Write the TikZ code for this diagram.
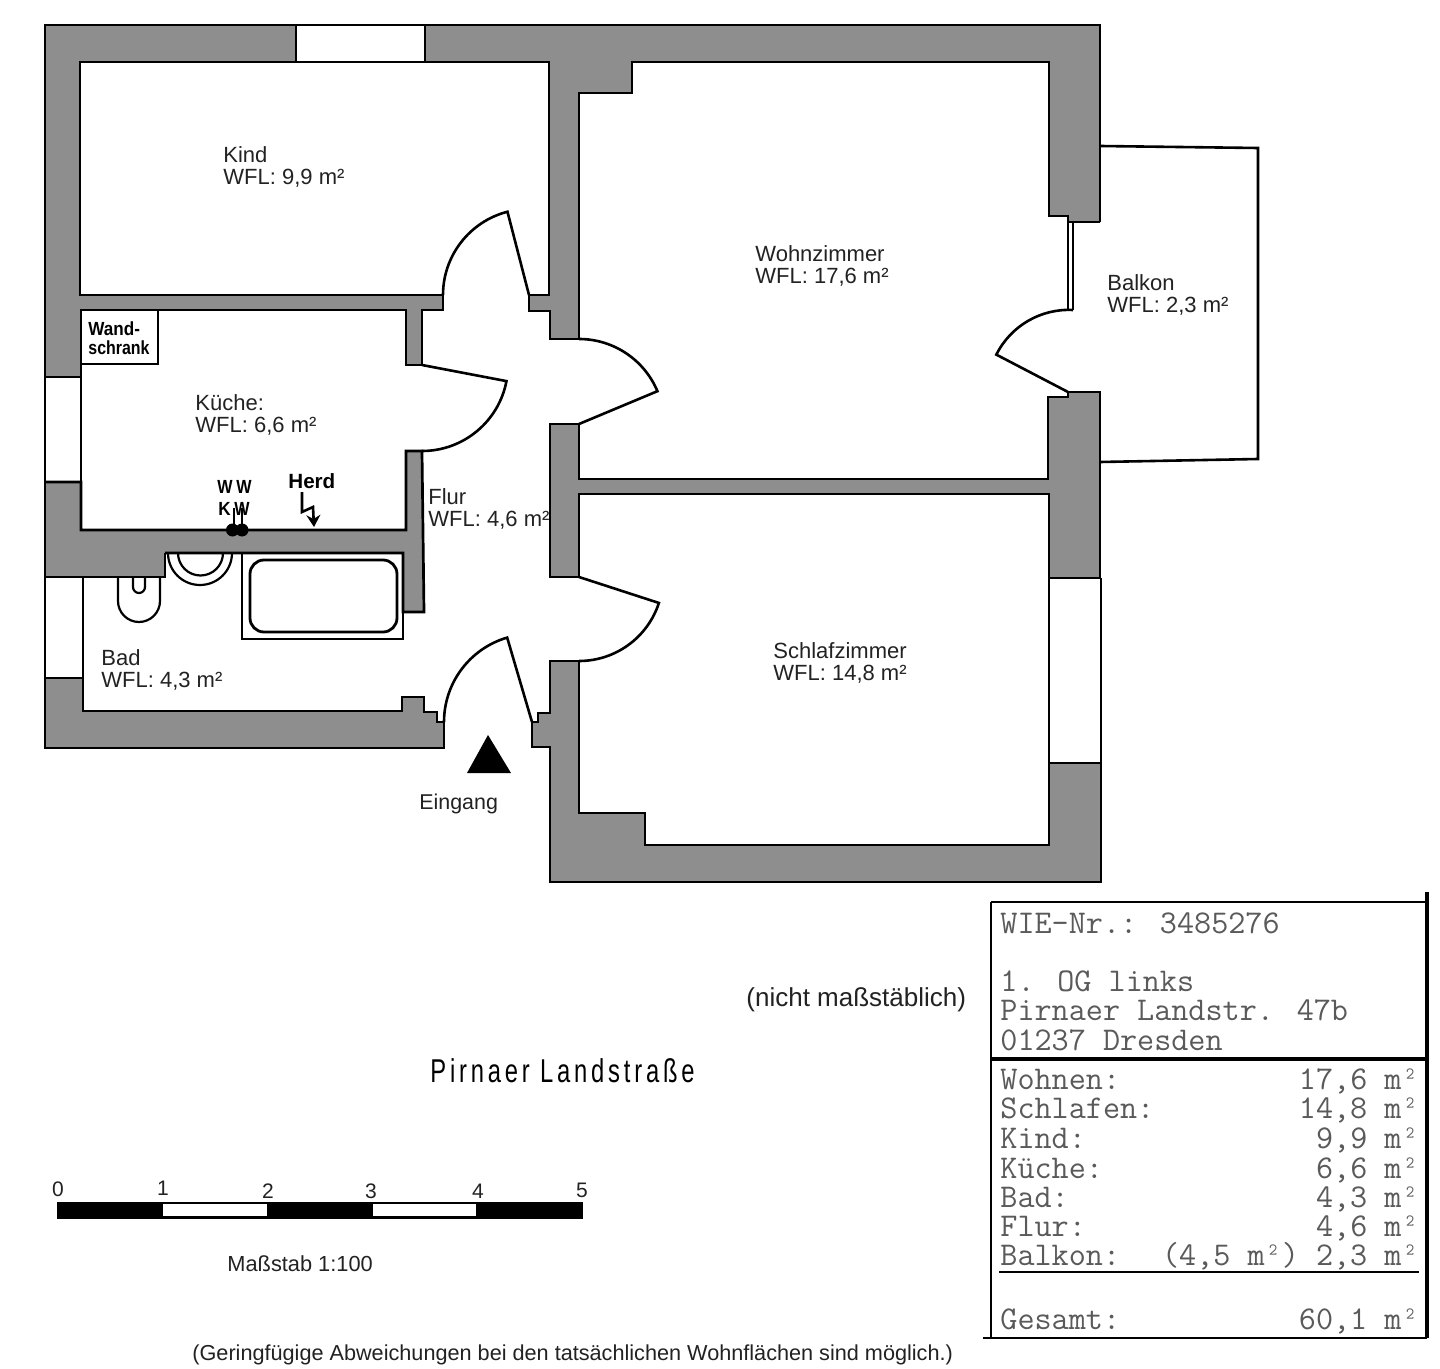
\documentclass[tikz,border=0pt]{standalone}
\usepackage{fontspec}
\setmainfont{Liberation Sans}
\usetikzlibrary{arrows.meta}
\definecolor{wallgray}{HTML}{8E8E8E}
\definecolor{inkdark}{HTML}{222222}
\definecolor{monoink}{HTML}{5A5A5A}
\tikzset{
  wall/.style={fill=wallgray,draw=black,line width=1.35pt,miter limit=10},
  wallline/.style={draw=black,line width=1.35pt,miter limit=10},
  wallthin/.style={draw=black,line width=0.7pt,miter limit=10},
  doorline/.style={draw=black,line width=1.3pt},
  winline/.style={draw=black,line width=1pt},
  lab/.style={anchor=base west,inner sep=0pt,text=inkdark,font=\fontsize{11}{13}\selectfont},
  cad/.style={anchor=base west,inner sep=0pt,text=black,font=\bfseries\fontsize{9.5}{11}\selectfont},
  scalenum/.style={anchor=base,inner sep=0pt,text=inkdark,font=\fontsize{10.5}{12}\selectfont},
  mono/.style={inner sep=0pt,text=monoink,text height=8pt,text depth=1.5pt,font=\ttfamily\fontsize{16.6}{18}\selectfont},
  fixture/.style={draw=black,line width=1.1pt},
}
\newcommand{\roomlabel}[5]{%
  \node[lab] (#1a) at (#2,#3) {#4};
  \node[lab] (#1b) at (#2,#3+22) {#5};}
\newcommand{\tablerow}[4]{%
  \node[mono,anchor=base west] (#1l) at (1000,#2) {#3};
  \node[mono,anchor=base east] (#1r) at (1419,#2) {#4};}
\begin{document}
\begin{tikzpicture}[x=0.5pt,y=-0.5pt]
\useasboundingbox (0,0) rectangle (1440,1369);
\fill[white] (0,0) rectangle (1440,1369);
% balcony
\draw[doorline] (1100,146) -- (1258,148) -- (1258,459) -- (1100,462);
% walls: upper assembly
\fill[wallgray] (45,25) -- (1100,25) -- (1100,222) -- (1068,222) -- (1068,216) -- (1049,216)
  -- (1049,62) -- (632,62) -- (632,93) -- (579,93) -- (579,339) -- (550,339) -- (550,311)
  -- (529,311) -- (529,295) -- (549,295) -- (549,62) -- (80,62) -- (80,295) -- (443,295)
  -- (443,310) -- (422,310) -- (422,365) -- (406,365) -- (406,310) -- (81,310) -- (81,377)
  -- (45,377) -- cycle;
\draw[wallline] (1100,222) -- (1068,222) -- (1068,216) -- (1049,216)
  -- (1049,62) -- (632,62) -- (632,93) -- (579,93) -- (579,339) -- (550,339) -- (550,311)
  -- (529,311) -- (529,295) -- (549,295) -- (549,62) -- (80,62) -- (80,295) -- (443,295)
  -- (443,310) -- (422,310) -- (422,365) -- (406,365) -- (406,310) -- (81,310) -- (81,377)
  -- (45,377);
\draw[wallthin] (45,377) -- (45,25) -- (1100,25) -- (1100,222);
% walls: middle right
\draw[wall] (550,424) -- (579,424) -- (579,479) -- (1048,479) -- (1048,397) -- (1068,397)
  -- (1068,392) -- (1100,392) -- (1100,578) -- (1049,578) -- (1049,494) -- (579,494)
  -- (579,577) -- (550,577) -- cycle;
% walls: lower right
\draw[wall] (550,661) -- (579,661) -- (579,813) -- (645,813) -- (645,845) -- (1049,845)
  -- (1049,763) -- (1101,763) -- (1101,882) -- (550,882) -- (550,747) -- (532,747)
  -- (532,722) -- (538,722) -- (538,713) -- (550,713) -- cycle;
% walls: kitchen / bath
\fill[wallgray] (45,482) -- (81,482) -- (81,530) -- (406,530) -- (406,451) -- (422,451)
  -- (424,612) -- (403,612) -- (403,553) -- (165,553) -- (165,577) -- (45,577) -- cycle;
\draw[wallline] (45,482) -- (81,482) -- (81,530) -- (406,530) -- (406,451) -- (422,451)
  -- (424,612) -- (403,612) -- (403,553) -- (165,553);
\draw[wallthin] (165,553) -- (165,577) -- (45,577) -- (45,482);
% walls: bath bottom
\draw[wall] (45,678) -- (83,678) -- (83,711) -- (402,711) -- (402,697) -- (424,697)
  -- (424,712) -- (437,712) -- (437,722) -- (444,722) -- (444,748) -- (45,748) -- cycle;
% windows
\fill[white] (296,23) rectangle (425,61);
\draw[winline,line width=0.7pt] (296,25) -- (425,25);
\draw[winline,line width=0.7pt] (296,25) -- (296,62);
\draw[winline,line width=0.7pt] (425,25) -- (425,62);
\draw[winline] (45,377) -- (45,482);
\draw[winline] (81,377) -- (81,482);
\draw[winline] (45,577) -- (45,678);
\draw[winline] (83,577) -- (83,678);
\draw[winline] (1049,578) -- (1049,763);
\draw[winline] (1101,578) -- (1101,763);
% balcony window strip
\draw[winline] (1068,222) -- (1068,310);
\draw[winline] (1073,222) -- (1073,310);
% doors
\draw[doorline] (443,295) arc[start angle=180,end angle=255.5,radius=86] -- (529,295);
\draw[doorline] (422,451) arc[start angle=90,end angle=10.8,radius=86] -- (422,365);
\draw[doorline] (579,339) arc[start angle=-90,end angle=-22.7,radius=85] -- (579,424);
\draw[doorline] (579,661) arc[start angle=90,end angle=18,radius=84] -- (579,577);
\draw[doorline] (444,722) arc[start angle=180,end angle=253.6,radius=88] -- (532,722);
\draw[doorline] (1073,310) arc[start angle=273,end angle=206.6,radius=81] -- (1068,392);
% entrance triangle
\fill[black] (488,735) -- (511,773) -- (467,773) -- cycle;
% cupboard
\draw[doorline,line width=1pt] (81,310) rectangle (158,364);
% bath fixtures
\draw[fixture] (242,553) rectangle (403,639);
\draw[fixture,line width=1.4pt,rounded corners=7pt] (250,560) rectangle (397,632);
\draw[fixture] (168,553) arc[start angle=180,end angle=0,radius=32];
\draw[fixture] (178,553) arc[start angle=180,end angle=0,radius=22.5];
\draw[fixture] (118,577) -- (118,601) arc[start angle=180,end angle=0,radius=21] -- (160,577);
\draw[fixture] (133,577) -- (133,587) arc[start angle=180,end angle=0,radius=6] -- (145,577);
% water connections
\fill[black] (232.5,530) circle[radius=6.5] (242,530) circle[radius=6.5];
\draw[black,line width=1pt] (234,508) -- (234,527) (242,508) -- (242,527);
% Herd arrow
\draw[black,line width=1.3pt,-{Stealth[length=6pt,width=7pt,inset=2pt]}] (302,492) -- (302,512) -- (313,507) -- (314,527);
% labels
\roomlabel{kind}{223}{163}{Kind}{WFL: 9,9 m²}
\roomlabel{wohn}{755}{262}{Wohnzimmer}{WFL: 17,6 m²}
\roomlabel{balk}{1107}{291}{Balkon}{WFL: 2,3 m²}
\roomlabel{kue}{195}{411}{Küche:}{WFL: 6,6 m²}
\roomlabel{flur}{428}{504}{Flur}{WFL: 4,6 m²}
\roomlabel{schl}{773}{658}{Schlafzimmer}{WFL: 14,8 m²}
\roomlabel{bad}{101}{665}{Bad}{WFL: 4,3 m²}
\node[lab,font=\fontsize{10.7}{13}\selectfont] (eing) at (419,809) {Eingang};
\node[cad] (wand1) at (88,336) {\scalebox{.9}[1]{Wand-}};
\node[cad] (wand2) at (88,355) {\scalebox{.84}[1]{schrank}};
\node[cad,font=\bfseries\fontsize{10.3}{12}\selectfont] (herd) at (288,488) {Herd};
\node[cad] (ww1) at (217,494) {\scalebox{.85}[1]{W}};
\node[cad] (ww2) at (236,494) {\scalebox{.85}[1]{W}};
\node[cad] (kw1) at (218,516) {\scalebox{.9}[1]{K}};
\node[cad] (kw2) at (234,516) {\scalebox{.85}[1]{W}};
\node[anchor=base west,inner sep=0pt,text=black,font=\fontsize{16.5}{18}\selectfont] (street) at (430,1082)
  {\scalebox{.72}[1]{\addfontfeature{LetterSpace=16}Pirnaer Landstraße}};
\node[lab,font=\fontsize{13}{15}\selectfont] (nm) at (746,1006) {(nicht maßstäblich)};
\node[lab,font=\fontsize{10.9}{13}\selectfont] (mass) at (227,1271) {Maßstab 1:100};
\node[lab,font=\fontsize{10.83}{13}\selectfont] (note) at (192,1360) {(Geringfügige Abweichungen bei den tatsächlichen Wohnflächen sind möglich.)};
% scale bar
\fill[black] (57,1202) rectangle (583,1219);
\fill[white] (163,1204) rectangle (267,1216);
\fill[white] (373,1204) rectangle (476,1216);
\node[scalenum] (s0) at (58,1196) {0};
\node[scalenum] (s1) at (163,1195) {1};
\node[scalenum] (s2) at (268,1198) {2};
\node[scalenum] (s3) at (371,1198) {3};
\node[scalenum] (s4) at (478,1198) {4};
\node[scalenum] (s5) at (582,1197) {5};
% data table
\draw[black,line width=1pt] (983,1338) -- (1427,1338);
\draw[black,line width=0.9pt] (991,902) -- (1427,902);
\draw[black,line width=1pt] (991,902) -- (991,1338);
\draw[black,line width=1.6pt] (1427,892) -- (1427,1338);
\draw[black,line width=1.6pt] (991,1059) -- (1427,1059);
\draw[black,line width=1pt] (999,1272) -- (1419,1272);
\node[mono,anchor=base west] (t1) at (1000,933) {WIE-Nr.: 3485276};
\node[mono,anchor=base west] (t2) at (1000,991) {1. OG links};
\node[mono,anchor=base west] (t3) at (1000,1020) {Pirnaer Landstr. 47b};
\node[mono,anchor=base west] (t4) at (1000,1050) {01237 Dresden};
\tablerow{r1}{1089}{Wohnen:}{17,6 m²}
\tablerow{r2}{1118}{Schlafen:}{14,8 m²}
\tablerow{r3}{1148}{Kind:}{9,9 m²}
\tablerow{r4}{1178}{Küche:}{6,6 m²}
\tablerow{r5}{1207}{Bad:}{4,3 m²}
\tablerow{r6}{1236}{Flur:}{4,6 m²}
\tablerow{r7}{1265}{Balkon:}{(4,5 m²) 2,3 m²}
\tablerow{r8}{1329}{Gesamt:}{60,1 m²}
\end{tikzpicture}
\end{document}
